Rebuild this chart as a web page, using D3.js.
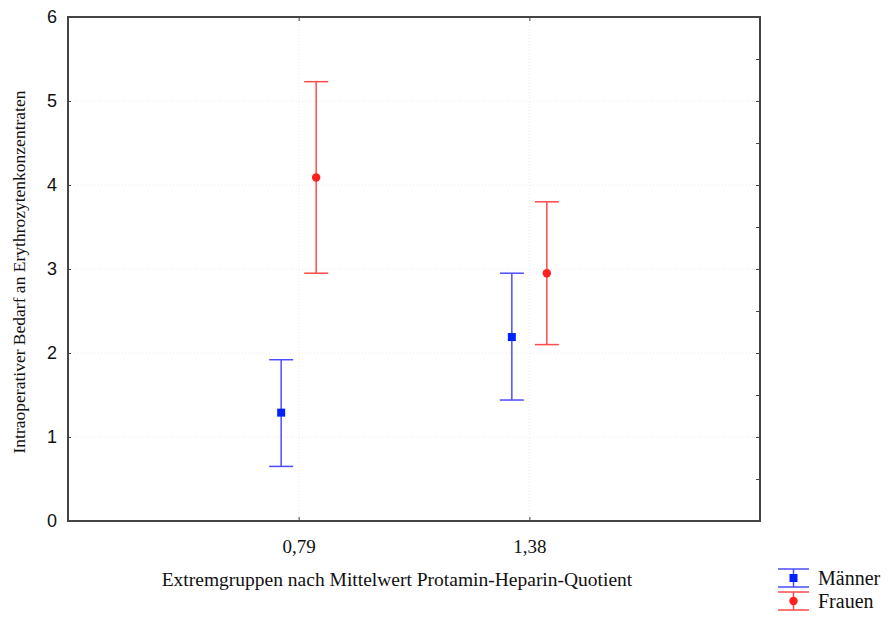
<!DOCTYPE html>
<html>
<head>
<meta charset="utf-8">
<script src="https://cdn.jsdelivr.net/npm/d3@7"></script>
<style>
  body { margin: 0; background: #fff; }
  svg { display: block; }
</style>
</head>
<body>
<script>
// data
const groups = ["0,79", "1,38"];
const seriesNames = ["Männer", "Frauen"];
const maennerMean = [1.29, 2.19];
const maennerLow = [0.65, 1.44];
const maennerHigh = [1.92, 2.95];
const frauenMean = [4.09, 2.95];
const frauenLow = [2.95, 2.10];
const frauenHigh = [5.23, 3.80];
const yTicks = [0, 1, 2, 3, 4, 5, 6];

const width = 889, height = 617;
const margin = {left: 68, right: 129, top: 17, bottom: 96};
const colors = {"Männer": "#0022ff", "Frauen": "#ff2020"};
const lineColors = {"Männer": "#4d4dff", "Frauen": "#ff4a4a"};
const offsets = {"Männer": -17.5, "Frauen": 17.5};
const serif = "'Liberation Serif', 'Times New Roman', serif";

const series = [
  {name: "Männer", mean: maennerMean, low: maennerLow, high: maennerHigh},
  {name: "Frauen", mean: frauenMean, low: frauenLow, high: frauenHigh}
];

const svg = d3.select("body").append("svg")
  .attr("width", width)
  .attr("height", height);

const x = d3.scalePoint()
  .domain(groups)
  .range([margin.left, width - margin.right])
  .padding(1);

const y = d3.scaleLinear()
  .domain([0, 6])
  .range([height - margin.bottom, margin.top]);

// grid lines (faint dotted)
svg.append("g").selectAll("line.hgrid")
  .data(yTicks.slice(1, -1))
  .join("line")
  .attr("x1", margin.left).attr("x2", width - margin.right)
  .attr("y1", d => y(d)).attr("y2", d => y(d))
  .attr("stroke", "#ececec").attr("stroke-dasharray", "1,2");

svg.append("g").selectAll("line.vgrid")
  .data(groups)
  .join("line")
  .attr("x1", d => x(d)).attr("x2", d => x(d))
  .attr("y1", margin.top).attr("y2", height - margin.bottom)
  .attr("stroke", "#ececec").attr("stroke-dasharray", "1,2");

// axes
const yAxisLeft = svg.append("g")
  .attr("transform", `translate(${margin.left},0)`)
  .call(d3.axisLeft(y).tickValues(yTicks).tickSize(-3).tickPadding(11).tickFormat(d3.format("d")));
yAxisLeft.select(".domain").remove();
yAxisLeft.selectAll("text")
  .attr("font-family", "'Liberation Sans', Arial, sans-serif")
  .attr("font-size", 18).attr("fill", "#111");
yAxisLeft.selectAll("line").attr("stroke", "#444");

const yAxisRight = svg.append("g")
  .attr("transform", `translate(${width - margin.right},0)`)
  .call(d3.axisRight(y).tickValues(d3.range(0.5, 6, 0.5)).tickSize(-4).tickFormat(""));
yAxisRight.select(".domain").remove();
yAxisRight.selectAll("line").attr("stroke", "#444");

const xAxis = svg.append("g")
  .attr("transform", `translate(0,${height - margin.bottom})`)
  .call(d3.axisBottom(x).tickSize(-4).tickPadding(19));
xAxis.select(".domain").remove();
xAxis.selectAll("text")
  .attr("font-family", serif)
  .attr("font-size", 19).attr("fill", "#111");
xAxis.selectAll("line").attr("stroke", "#444");

const xAxisTop = svg.append("g")
  .attr("transform", `translate(0,${margin.top})`)
  .call(d3.axisTop(x).tickSize(-4).tickFormat(""));
xAxisTop.select(".domain").remove();
xAxisTop.selectAll("line").attr("stroke", "#444");

// frame
svg.append("rect")
  .attr("x", margin.left).attr("y", margin.top)
  .attr("width", width - margin.left - margin.right)
  .attr("height", height - margin.top - margin.bottom)
  .attr("fill", "none").attr("stroke", "#444").attr("stroke-width", 2);

// error bars
const capW = 12;
series.forEach(s => {
  const g = svg.append("g");
  const cx = i => x(groups[i]) + offsets[s.name];
  const idx = groups.map((d, i) => i);
  g.selectAll("line.stem").data(idx).join("line")
    .attr("x1", cx).attr("x2", cx)
    .attr("y1", i => y(s.low[i])).attr("y2", i => y(s.high[i]))
    .attr("stroke", lineColors[s.name]).attr("stroke-width", 1.5);
  ["low", "high"].forEach(k => {
    g.selectAll("line.cap-" + k).data(idx).join("line")
      .attr("x1", i => cx(i) - capW).attr("x2", i => cx(i) + capW)
      .attr("y1", i => y(s[k][i])).attr("y2", i => y(s[k][i]))
      .attr("stroke", lineColors[s.name]).attr("stroke-width", 1.5);
  });
  const sym = s.name === "Männer" ? d3.symbolSquare : d3.symbolCircle;
  g.selectAll("path.mark").data(idx).join("path")
    .attr("d", d3.symbol().type(sym).size(s.name === "Männer" ? 64 : 56))
    .attr("transform", i => `translate(${cx(i)},${y(s.mean[i])})`)
    .attr("fill", colors[s.name]);
});

// axis titles
svg.append("text")
  .attr("x", 397)
  .attr("y", 586)
  .attr("text-anchor", "middle")
  .attr("font-family", serif)
  .attr("font-size", 19.5).attr("fill", "#111")
  .text("Extremgruppen nach Mittelwert Protamin-Heparin-Quotient");

svg.append("text")
  .attr("transform", `translate(25,${y(3) + 3}) rotate(-90)`)
  .attr("text-anchor", "middle")
  .attr("font-family", serif)
  .attr("font-size", 17.5).attr("fill", "#111")
  .text("Intraoperativer Bedarf an Erythrozytenkonzentraten");

// legend
const legend = svg.append("g").attr("transform", "translate(778,569)");
series.forEach((s, i) => {
  const lg = legend.append("g").attr("transform", `translate(0,${i * 23})`);
  lg.append("line").attr("x1", 0).attr("x2", 31).attr("y1", 0).attr("y2", 0)
    .attr("stroke", lineColors[s.name]).attr("stroke-width", 1.5);
  lg.append("line").attr("x1", 0).attr("x2", 31).attr("y1", 18).attr("y2", 18)
    .attr("stroke", lineColors[s.name]).attr("stroke-width", 1.5);
  lg.append("line").attr("x1", 15.5).attr("x2", 15.5).attr("y1", 0).attr("y2", 18)
    .attr("stroke", lineColors[s.name]).attr("stroke-width", 1.5);
  lg.append("path")
    .attr("d", d3.symbol().type(i === 0 ? d3.symbolSquare : d3.symbolCircle).size(i === 0 ? 64 : 56))
    .attr("transform", "translate(15.5,9)")
    .attr("fill", colors[s.name]);
  lg.append("text")
    .attr("x", 40).attr("y", 16)
    .attr("font-family", serif)
    .attr("font-size", 20).attr("fill", "#111")
    .text(s.name);
});
</script>
</body>
</html>
